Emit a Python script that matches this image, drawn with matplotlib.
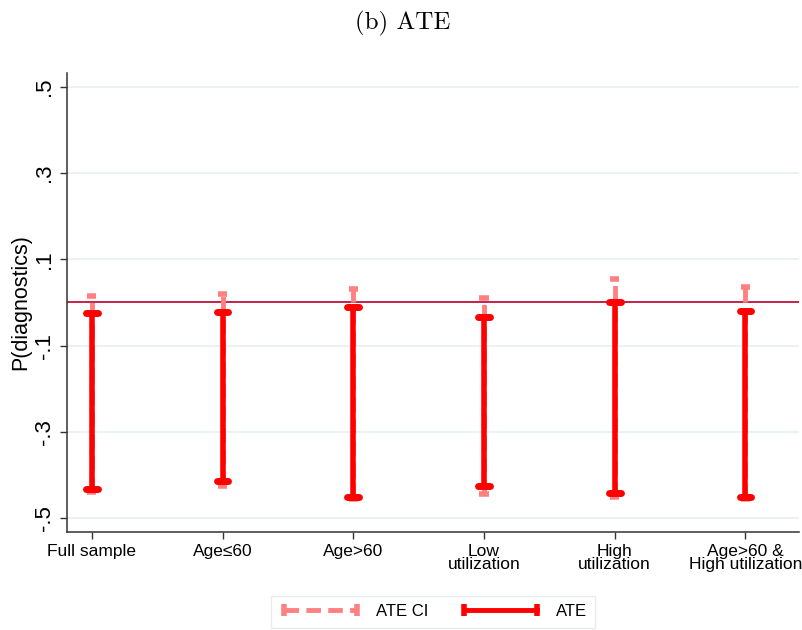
import numpy as np
import matplotlib
matplotlib.use("Agg")
import matplotlib.pyplot as plt
from matplotlib.lines import Line2D

plt.rcParams['font.family'] = ['Liberation Sans', 'DejaVu Sans']

groups = ["Full sample", "Age\u226460", "Age>60", "Low\nutilization",
          "High\nutilization", "Age>60 &\nHigh utilization"]
ate_lo = [-0.432, -0.415, -0.452, -0.425, -0.442, -0.452]
ate_hi = [-0.025, -0.021, -0.010, -0.034, 0.000, -0.020]
ci_lo = [-0.440, -0.425, -0.455, -0.443, -0.452, -0.455]
ci_hi = [0.015, 0.020, 0.031, 0.010, 0.054, 0.037]
yticks = [0.5, 0.3, 0.1, -0.1, -0.3, -0.5]
ytick_labels = [".5", ".3", ".1", "-.1", "-.3", "-.5"]

ci_col = "#ff8080"
ate_col = "#ff0000"

fig = plt.figure(figsize=(8.03, 6.3), dpi=100)
ax = fig.add_axes([0.0834, 0.1556, 0.9116, 0.7286])

x = np.arange(1, len(groups) + 1)

for yv in yticks:
    ax.axhline(yv, color="#e8f0f2", lw=1.2, zorder=0)
ax.axhline(0, color="#c0103a", lw=1.3, zorder=1)

# confidence interval: dashed, drawn first so the estimate bar sits on top
ax.vlines(x, ci_lo, ci_hi, colors=ci_col, lw=3.5, linestyles=(0, (3, 1.5)), zorder=2)
ax.hlines(ci_lo + ci_hi, np.r_[x, x] - 0.035, np.r_[x, x] + 0.035, colors=ci_col, lw=4, zorder=2)

ax.vlines(x, ate_lo, ate_hi, colors=ate_col, lw=4, zorder=3)
ax.hlines(ate_lo + ate_hi, np.r_[x, x] - 0.045, np.r_[x, x] + 0.045, colors=ate_col,
          lw=5, capstyle='round', zorder=3)

ax.set_xlim(0.81, 6.41)
ax.set_ylim(-0.532, 0.532)
ax.set_xticks(x)
ax.set_xticklabels(groups, fontsize=12.5, linespacing=0.88)
ax.set_yticks(yticks)
ax.set_yticklabels(ytick_labels, fontsize=16, rotation=90, va='center')
ax.tick_params(axis='both', direction='out', length=5, width=1, color="#333333", pad=3.5)
ax.set_ylabel("P(diagnostics)", fontsize=15.5, labelpad=2)

for s in ["top", "right"]:
    ax.spines[s].set_visible(False)
for s in ["left", "bottom"]:
    ax.spines[s].set_color("#333333")
    ax.spines[s].set_linewidth(1.1)

fig.text(0.502, 0.962, "(b) ATE", fontsize=18, family="cmr10", ha='center', va='center')

handles = [
    Line2D([0], [0], color=ci_col, lw=3.5, ls=(0, (3, 1.5)), marker='|', markersize=9,
           markeredgewidth=4),
    Line2D([0], [0], color=ate_col, lw=3.5, marker='|', markersize=9,
           markeredgewidth=4),
]
leg = fig.legend(handles, ["ATE CI", "ATE"], loc='center', bbox_to_anchor=(0.539, 0.029),
                 ncol=2, fontsize=12, frameon=True, fancybox=False, handlelength=5,
                 numpoints=2, columnspacing=1.85, handletextpad=0.8, borderpad=0.5)
leg.get_frame().set_edgecolor("#e0e8ea")
leg.get_frame().set_linewidth(1)

fig.savefig("out.png", dpi=100)
